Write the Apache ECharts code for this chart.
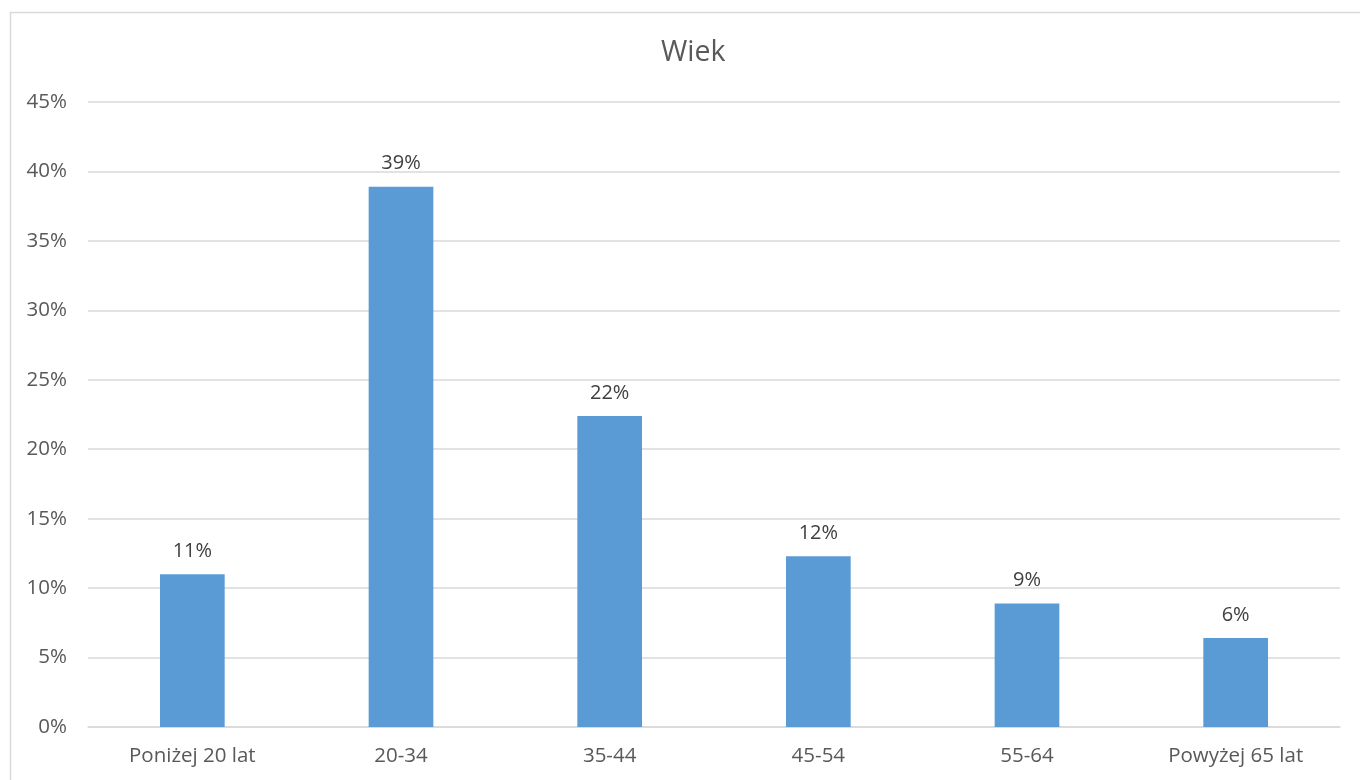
<!DOCTYPE html>
<html>
<head>
<meta charset="utf-8">
<script src="https://cdn.jsdelivr.net/npm/echarts@6/dist/echarts.min.js"></script>
<style>html,body{margin:0;padding:0;background:#fff;}#c{width:1360px;height:780px;}</style>
</head>
<body>
<div id="c"></div>
<script>
const categories = ['Poniżej 20 lat', '20-34', '35-44', '45-54', '55-64', 'Powyżej 65 lat'];
const values = [11.0, 38.9, 22.4, 12.3, 8.9, 6.4];
const yTicks = [0, 5, 10, 15, 20, 25, 30, 35, 40, 45];
const title = 'Wiek';

const chart = echarts.init(document.getElementById('c'));
const font = 'Open Sans';
chart.setOption({
  animation: false,
  backgroundColor: '#fff',
  graphic: [{
    type: 'rect', left: 8, top: 10, silent: true,
    shape: { width: 1370, height: 790 },
    style: { fill: 'none', stroke: '#D9D9D9', lineWidth: 1.5 }
  }],
  title: {
    text: title, left: 656, top: 33,
    textStyle: { fontFamily: font, fontSize: 28.5, fontWeight: 'normal', color: '#595959' }
  },
  grid: { left: 88, right: 20, top: 102, bottom: 53, containLabel: false },
  xAxis: {
    type: 'category', data: categories,
    axisLine: { lineStyle: { color: '#D9D9D9', width: 1.5 } },
    axisTick: { show: false },
    axisLabel: { fontFamily: font, fontSize: 20.5, color: '#595959', margin: 19 }
  },
  yAxis: {
    type: 'value', min: yTicks[0], max: yTicks[yTicks.length - 1], interval: 5,
    axisLine: { show: false }, axisTick: { show: false },
    splitLine: { lineStyle: { color: '#D9D9D9', width: 1.5 } },
    axisLabel: { fontFamily: font, fontSize: 20.5, color: '#595959', margin: 21, formatter: v => v + '%' }
  },
  series: [{
    type: 'bar', data: values, barWidth: '31%',
    itemStyle: { color: '#5B9BD5' },
    label: {
      show: true, position: 'top', distance: 13,
      fontFamily: font, fontSize: 20, color: '#404040',
      formatter: p => Math.round(p.value) + '%'
    }
  }]
});
</script>
</body>
</html>
